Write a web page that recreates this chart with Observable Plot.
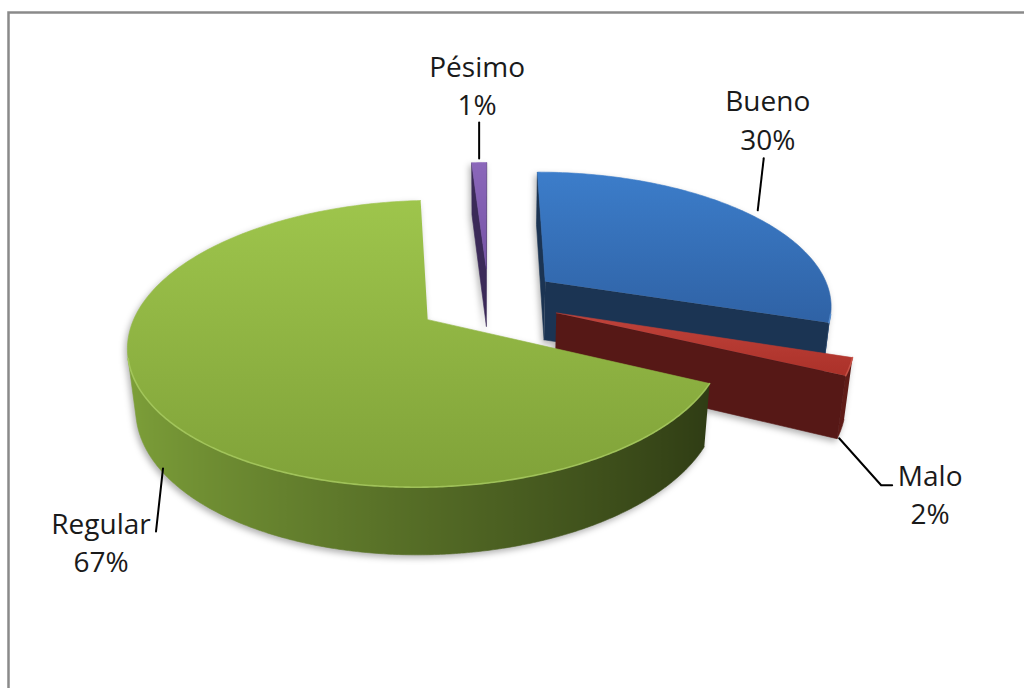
<!DOCTYPE html>
<html>
<head>
<meta charset="utf-8">
<script src="https://cdn.jsdelivr.net/npm/d3@7"></script>
<script src="https://cdn.jsdelivr.net/npm/@observablehq/plot@0.6"></script>
<style>
  html, body { margin: 0; padding: 0; background: #fff; overflow: hidden; }
  #chart { width: 1024px; height: 688px; }
</style>
</head>
<body>
<div id="chart"></div>
<script>
// ---- data ----
const categories = ["Bueno", "Malo", "Regular", "Pésimo"];
const shares = [30, 2, 67, 1];
const percentLabels = ["30%", "2%", "67%", "1%"];

// ---- styles ----
const topColors = [["#3c7dca", "#2f62a5"], ["#c0433b", "#ab3129"], ["#9ec54c", "#80a239"], ["#8b67ba", "#7553a6"]];
const wallLight = ["#4a86cf", "#c24a40", "#7fa23a", "#8a66b8"];
const wallDark  = ["#23497e", "#5a1a16", "#2b3712", "#3a2a58"];
const sideColors = ["#1b3453", "#561816", "#4d6624", "#3b2a58"];
const rimHighlight = ["#5d95d8", "#d0574c", "#a9cc62", "#9a7ac6"];

// ---- 3D layout ----
const W = 1024, H = 688;
const deg = Math.PI / 180;
const TILT = 29.8 * deg, DIST = 5.4, THICK = 0.238, EXPLODE = 0.25;
const SCALE = 281, CX = 488, TOPY = 300;
const sinT = Math.sin(TILT), cosT = Math.cos(TILT);
const cam = [0, -DIST * cosT, DIST * sinT];

function project([X, Y, Z]) {
  const depth = DIST + Y * cosT - Z * sinT;
  return {u: X * DIST / depth, v: (Y * sinT + Z * cosT) * DIST / depth, depth};
}
const CY = TOPY + SCALE * project([0, 0, THICK]).v;
const toPx = p => [CX + SCALE * p.u, CY - SCALE * p.v];
const toU = px => (px - CX) / SCALE, toV = py => (CY - py) / SCALE;

const total = d3.sum(shares);
let acc = 0;
const slices = categories.map((name, i) => {
  const a0 = acc / total * 2 * Math.PI; acc += shares[i];
  const a1 = acc / total * 2 * Math.PI;
  const am = (a0 + a1) / 2;
  return {name, i, a0, a1, am, ox: EXPLODE * Math.sin(am), oy: EXPLODE * Math.cos(am)};
});

const rows = [], rimRows = [], wallGradients = [];
let fid = 0;
function addFace(pts, fill) {
  const id = fid++;
  for (const p of pts) { const q = project(p); rows.push({face: id, u: q.u, v: q.v, fill}); }
}
const visible = (n, p) => n[0] * (cam[0] - p[0]) + n[1] * (cam[1] - p[1]) + n[2] * (cam[2] - p[2]) > 0;

const order = slices.slice().sort((a, b) => project([b.ox, b.oy, 0]).depth - project([a.ox, a.oy, 0]).depth);
for (const s of order) {
  const rim = (a, z) => [s.ox + Math.sin(a), s.oy + Math.cos(a), z];
  const tip = z => [s.ox, s.oy, z];
  // outer wall: contiguous run of camera-facing angles, one polygon with a lit gradient
  const n = Math.max(4, Math.ceil((s.a1 - s.a0) / (0.5 * deg)));
  const angs = d3.range(n + 1).map(k => s.a0 + (s.a1 - s.a0) * k / n);
  const vis = angs.filter(a => visible([Math.sin(a), Math.cos(a), 0], rim(a, THICK / 2)));
  if (vis.length > 1) {
    const top = vis.map(a => rim(a, THICK)), bot = vis.map(a => rim(a, 0)).reverse();
    const xs = vis.map(a => toPx(project(rim(a, THICK)))[0]);
    const x0 = d3.min(xs), x1 = d3.max(xs);
    const stops = vis.map((a, k) => ({off: x1 > x0 ? (xs[k] - x0) / (x1 - x0) : 0,
      color: d3.interpolateRgb(wallDark[s.i], wallLight[s.i])((1 - Math.sin(a)) / 2)}))
      .sort((p, q) => p.off - q.off);
    wallGradients.push({id: "wall" + s.i, x0, x1, stops});
    addFace(top.concat(bot), `url(#wall${s.i})`);
    for (const p of top) { const q = project(p); rimRows.push({slice: s.name, u: q.u, v: q.v, stroke: rimHighlight[s.i]}); }
  }
  // radial cut faces
  const mid0 = [s.ox + 0.5 * Math.sin(s.a0), s.oy + 0.5 * Math.cos(s.a0), THICK / 2];
  if (visible([-Math.cos(s.a0), Math.sin(s.a0), 0], mid0))
    addFace([tip(THICK), rim(s.a0, THICK), rim(s.a0, 0), tip(0)], sideColors[s.i]);
  const mid1 = [s.ox + 0.5 * Math.sin(s.a1), s.oy + 0.5 * Math.cos(s.a1), THICK / 2];
  if (visible([Math.cos(s.a1), -Math.sin(s.a1), 0], mid1))
    addFace([tip(THICK), rim(s.a1, THICK), rim(s.a1, 0), tip(0)], sideColors[s.i]);
  // top face
  const m = Math.max(2, Math.ceil((s.a1 - s.a0) / deg));
  addFace([tip(THICK)].concat(d3.range(m + 1).map(k => rim(s.a0 + (s.a1 - s.a0) * k / m, THICK))), `url(#top${s.i})`);
}

// ---- labels: anchors computed on the slices, offsets in pixels ----
const labelLayout = [
  {anchorZ: THICK, leader: [[10, -3], [16, -55]], text: [20, -95]},        // Bueno
  {anchorZ: 0, leader: [[-2, 9], [40, 56], [51, 56]], text: [89, 64]},     // Malo
  {anchorZ: 0, leader: [[2, -2], [-5, 61]], text: [-60, 70]},              // Regular
  {anchorZ: THICK, leader: [[0, -4], [0, -40]], text: [-2, -79]}           // Pésimo
];
const leaderRows = [], labelRows = [];
slices.forEach((s, i) => {
  const L = labelLayout[i];
  const [ax, ay] = toPx(project([s.ox + Math.sin(s.am), s.oy + Math.cos(s.am), L.anchorZ]));
  for (const [dx, dy] of L.leader) leaderRows.push({label: s.name, u: toU(ax + dx), v: toV(ay + dy)});
  labelRows.push({u: toU(ax + L.text[0]), v: toV(ay + L.text[1]), text: s.name + "\n" + percentLabels[i]});
});

const plot = Plot.plot({
  width: W, height: H, margin: 0,
  x: {domain: [toU(0), toU(W)], range: [0, W], axis: null},
  y: {domain: [toV(H), toV(0)], range: [H, 0], axis: null},
  color: {type: "identity"},
  style: {background: "#fff"},
  marks: [
    Plot.frame({stroke: "#8a8a8a", strokeWidth: 2.5, insetLeft: 8, insetTop: 12, insetRight: -20, insetBottom: -20}),
    Plot.line(rows, {x: "u", y: "v", z: "face", fill: "fill", stroke: "fill", strokeWidth: 0.6, strokeLinejoin: "round"}),
    Plot.line(rimRows, {x: "u", y: "v", z: "slice", stroke: "stroke", strokeWidth: 1.6, strokeOpacity: 0.8}),
    Plot.line(leaderRows, {x: "u", y: "v", z: "label", stroke: "#000", strokeWidth: 2}),
    Plot.text(labelRows, {x: "u", y: "v", text: "text", fontSize: 28, lineHeight: 1.36,
      fontFamily: "'Open Sans', Lato, sans-serif", fill: "#1a1a1a", textAnchor: "middle", lineAnchor: "middle"})
  ]
});

const defs = d3.select(plot).insert("defs", ":first-child");
topColors.forEach((c, i) => {
  const g = defs.append("linearGradient").attr("id", "top" + i)
    .attr("x1", 0).attr("y1", 0).attr("x2", 0).attr("y2", 1);
  g.append("stop").attr("offset", "0%").attr("stop-color", c[0]);
  g.append("stop").attr("offset", "100%").attr("stop-color", c[1]);
});
wallGradients.forEach(w => {
  const g = defs.append("linearGradient").attr("id", w.id).attr("gradientUnits", "userSpaceOnUse")
    .attr("x1", w.x0).attr("y1", 0).attr("x2", w.x1 === w.x0 ? w.x0 + 1 : w.x1).attr("y2", 0);
  w.stops.forEach(st => g.append("stop").attr("offset", st.off).attr("stop-color", st.color));
});
d3.select(plot).select("g[aria-label=line]").style("filter", "drop-shadow(-2px 3px 3px rgba(0,0,0,0.3))");
document.getElementById("chart").appendChild(plot);
</script>
</body>
</html>
